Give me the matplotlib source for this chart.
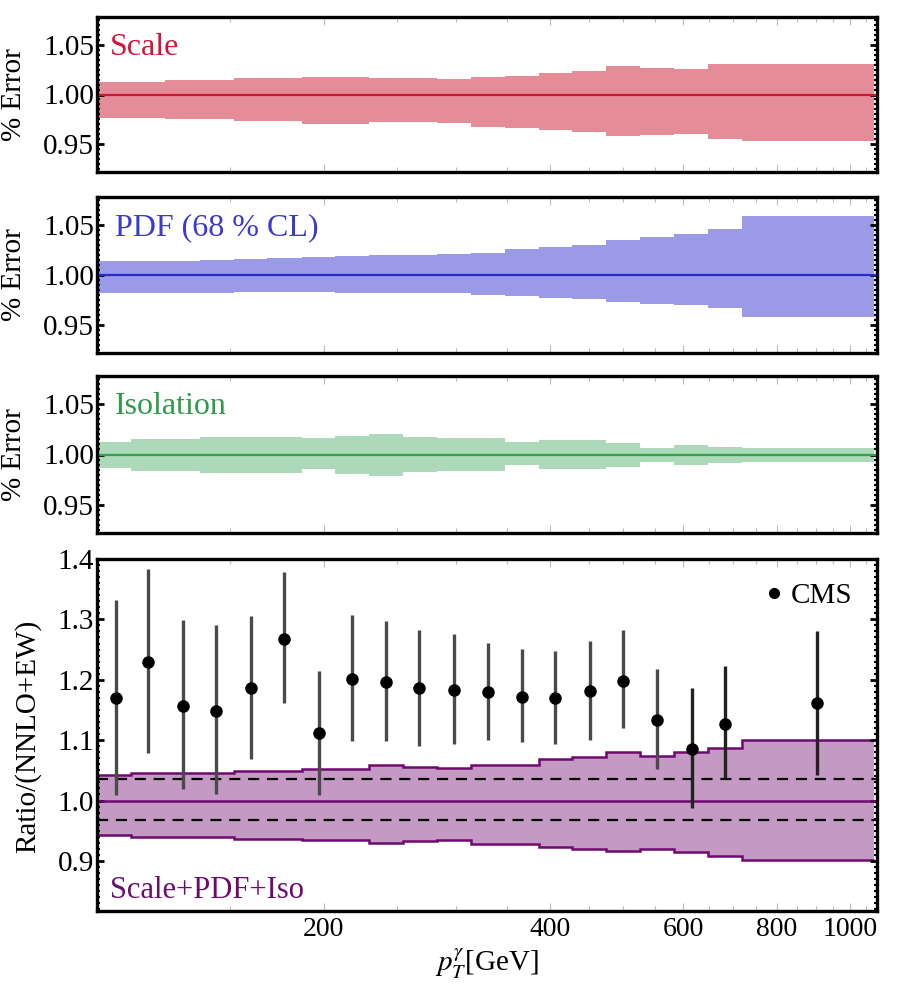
import numpy as np
import matplotlib
matplotlib.use("Agg")
import matplotlib.pyplot as plt
from matplotlib.ticker import FixedLocator, NullFormatter, FormatStrFormatter, MultipleLocator
from matplotlib.lines import Line2D

plt.rcParams['font.family'] = ['Liberation Serif', 'DejaVu Serif']
plt.rcParams['mathtext.fontset'] = 'stix'

# bin edges in pT [GeV] and CMS point positions
edges = [100, 111, 123, 137, 152, 168, 187, 207, 230, 255, 283, 314, 348, 386,
         428, 474, 526, 584, 648, 719, 1076]
pt_cms = [106, 117, 130, 144, 160, 177, 197, 218, 242, 268, 298, 331, 367, 406,
          452, 500, 554, 617, 682, 904]

# scale variation band
scale_up = [1.0127, 1.0127, 1.015, 1.015, 1.0163, 1.0163, 1.018, 1.018, 1.017, 1.017,
            1.016, 1.018, 1.019, 1.0217, 1.024, 1.029, 1.027, 1.026, 1.031, 1.031]
scale_dn = [0.976, 0.976, 0.975, 0.975, 0.973, 0.973, 0.970, 0.970, 0.972, 0.972,
            0.971, 0.967, 0.966, 0.964, 0.962, 0.958, 0.959, 0.960, 0.955, 0.953]

# PDF band (68% CL)
pdf_up = [1.0135, 1.014, 1.0145, 1.015, 1.016, 1.017, 1.018, 1.019, 1.0195, 1.020,
          1.0207, 1.022, 1.0257, 1.028, 1.030, 1.035, 1.0377, 1.041, 1.0457, 1.059]
pdf_dn = [0.982, 0.982, 0.9825, 0.9825, 0.983, 0.983, 0.983, 0.9825, 0.982, 0.982,
          0.9817, 0.980, 0.979, 0.977, 0.976, 0.973, 0.9714, 0.970, 0.967, 0.958]

# isolation band
iso_up = [1.012, 1.0153, 1.0153, 1.0177, 1.0177, 1.0177, 1.016, 1.0187, 1.0207, 1.017,
          1.016, 1.016, 1.012, 1.0143, 1.0143, 1.011, 1.006, 1.0093, 1.0073, 1.0067]
iso_dn = [0.987, 0.9837, 0.9837, 0.982, 0.982, 0.982, 0.9853, 0.981, 0.9787, 0.9827,
          0.984, 0.984, 0.9893, 0.986, 0.986, 0.9877, 0.9927, 0.990, 0.992, 0.9927]

# combined Scale+PDF+Iso band
tot_up = [1.042, 1.046, 1.046, 1.046, 1.049, 1.049, 1.053, 1.053, 1.058, 1.056,
          1.054, 1.058, 1.058, 1.068, 1.072, 1.080, 1.0745, 1.080, 1.087, 1.100]
tot_dn = [0.943, 0.939, 0.939, 0.939, 0.937, 0.937, 0.934, 0.934, 0.930, 0.933,
          0.9345, 0.928, 0.928, 0.923, 0.9195, 0.916, 0.9195, 0.915, 0.908, 0.901]

# CMS data / theory
cms_val = [1.169, 1.229, 1.157, 1.148, 1.186, 1.267, 1.111, 1.201, 1.197, 1.186,
           1.183, 1.179, 1.172, 1.169, 1.182, 1.198, 1.134, 1.086, 1.127, 1.161]
cms_hi = [1.332, 1.383, 1.2995, 1.291, 1.305, 1.378, 1.214, 1.307, 1.298, 1.283,
          1.276, 1.261, 1.251, 1.248, 1.264, 1.282, 1.218, 1.187, 1.223, 1.281]
cms_lo = [1.0095, 1.078, 1.019, 1.010, 1.069, 1.161, 1.0095, 1.098, 1.098, 1.090,
          1.093, 1.100, 1.097, 1.093, 1.101, 1.1195, 1.053, 0.987, 1.037, 1.043]

dash_levels = [1.036, 0.967]

panels = [
    ("Scale", scale_up, scale_dn, '#e48c98', '#d2143a', '#d2143a'),
    ("PDF (68 % CL)", pdf_up, pdf_dn, '#9a9ae6', '#2a2ac8', '#3a3ad0'),
    ("Isolation", iso_up, iso_dn, '#acd9b9', '#35a050', '#2f9a4a'),
]

W, H = 900, 998
fig = plt.figure(figsize=(W / 100, H / 100), dpi=100)

def frac(top, bottom):
    return [97 / W, 1 - bottom / H, 780 / W, (bottom - top) / H]

boxes = [frac(17, 172), frac(197, 353), frac(376, 533), frac(559, 911)]

xmajor = [200, 400, 600, 800, 1000]
xminor = [v for v in range(100, 1100, 50) if v not in xmajor]

def style(ax, ymaj, ymin, fmt):
    ax.set_xscale('log')
    ax.set_xlim(100, 1086)
    ax.xaxis.set_major_locator(FixedLocator(xmajor))
    ax.xaxis.set_minor_locator(FixedLocator(xminor))
    ax.xaxis.set_major_formatter(FormatStrFormatter('%d'))
    ax.xaxis.set_minor_formatter(NullFormatter())
    ax.yaxis.set_major_locator(FixedLocator(ymaj))
    ax.yaxis.set_minor_locator(MultipleLocator(ymin))
    ax.yaxis.set_major_formatter(FormatStrFormatter(fmt))
    ax.tick_params(axis='x', which='major', direction='in', top=True, bottom=True,
                   length=6, width=0.8, color='#bbbbbb', labelsize=20, pad=4)
    ax.tick_params(axis='x', which='minor', direction='in', top=True, bottom=True,
                   length=3.5, width=0.8, color='#bbbbbb')
    ax.tick_params(axis='y', which='major', direction='in', left=True, right=True,
                   length=5, width=2, color='k', labelsize=21, pad=2)
    ax.tick_params(axis='y', which='minor', direction='in', left=True, right=True,
                   length=2.5, width=1.5, color='k')
    for sp in ax.spines.values():
        sp.set_linewidth(2.4)

for i, (label, up, dn, fill, line, tcol) in enumerate(panels):
    ax = fig.add_axes(boxes[i])
    ax.stairs(up, edges, baseline=dn, fill=True, color=fill, lw=0)
    ax.axhline(1.0, color=line, lw=1.6)
    ax.set_ylim(0.922, 1.078)
    style(ax, [0.95, 1.00, 1.05], 0.005, '%.2f')
    ax.tick_params(axis='x', labelbottom=False)
    ax.set_ylabel("% Error", fontsize=21)
    ax.yaxis.set_label_coords(-0.09, 0.5)
    ax.text(0.016 if i == 0 else 0.023, 0.755, label, color=tcol, fontsize=23,
            transform=ax.transAxes, va='baseline', ha='left')

ax = fig.add_axes(boxes[3])
ax.stairs(tot_up, edges, baseline=tot_dn, fill=True, color='#c49ac4', lw=0)
ax.stairs(tot_up, edges, baseline=None, color='#6e0a6e', lw=1.8)
ax.stairs(tot_dn, edges, baseline=None, color='#6e0a6e', lw=1.8)
ax.axhline(1.0, color='#6e0a6e', lw=1.8)
for lev in dash_levels:
    ax.axhline(lev, color='k', lw=1.6, ls=(0, (5, 3.5)))

pt = np.array(pt_cms)
val = np.array(cms_val)
bar_cols = ['#4a4a4a'] * 17 + ['#222222'] * 3
for x, lo, hi, c in zip(pt, cms_lo, cms_hi, bar_cols):
    ax.plot([x, x], [lo, hi], color=c, lw=2.4, solid_capstyle='butt', zorder=3)
ax.plot(pt, val, 'o', color='k', ms=8, zorder=4)

ax.set_ylim(0.817, 1.40)
style(ax, [0.9, 1.0, 1.1, 1.2, 1.3, 1.4], 0.01, '%.1f')
ax.set_ylabel("Ratio/(NNLO+EW)", fontsize=21)
ax.yaxis.set_label_coords(-0.072, 0.497)
ax.set_xlabel(r"$p_T^{\gamma}$[GeV]", fontsize=21, labelpad=4)
ax.text(0.017, 0.037, "Scale+PDF+Iso", color='#6e0a6e', fontsize=22,
        transform=ax.transAxes, va='baseline', ha='left')
ax.legend(handles=[Line2D([], [], marker='o', ls='', color='k', ms=7)],
          labels=['CMS'], loc='upper right', frameon=False, fontsize=21,
          handletextpad=0.1, handlelength=1.0, borderaxespad=0.3,
          bbox_to_anchor=(0.995, 0.99))

fig.savefig("out.png", dpi=100)
